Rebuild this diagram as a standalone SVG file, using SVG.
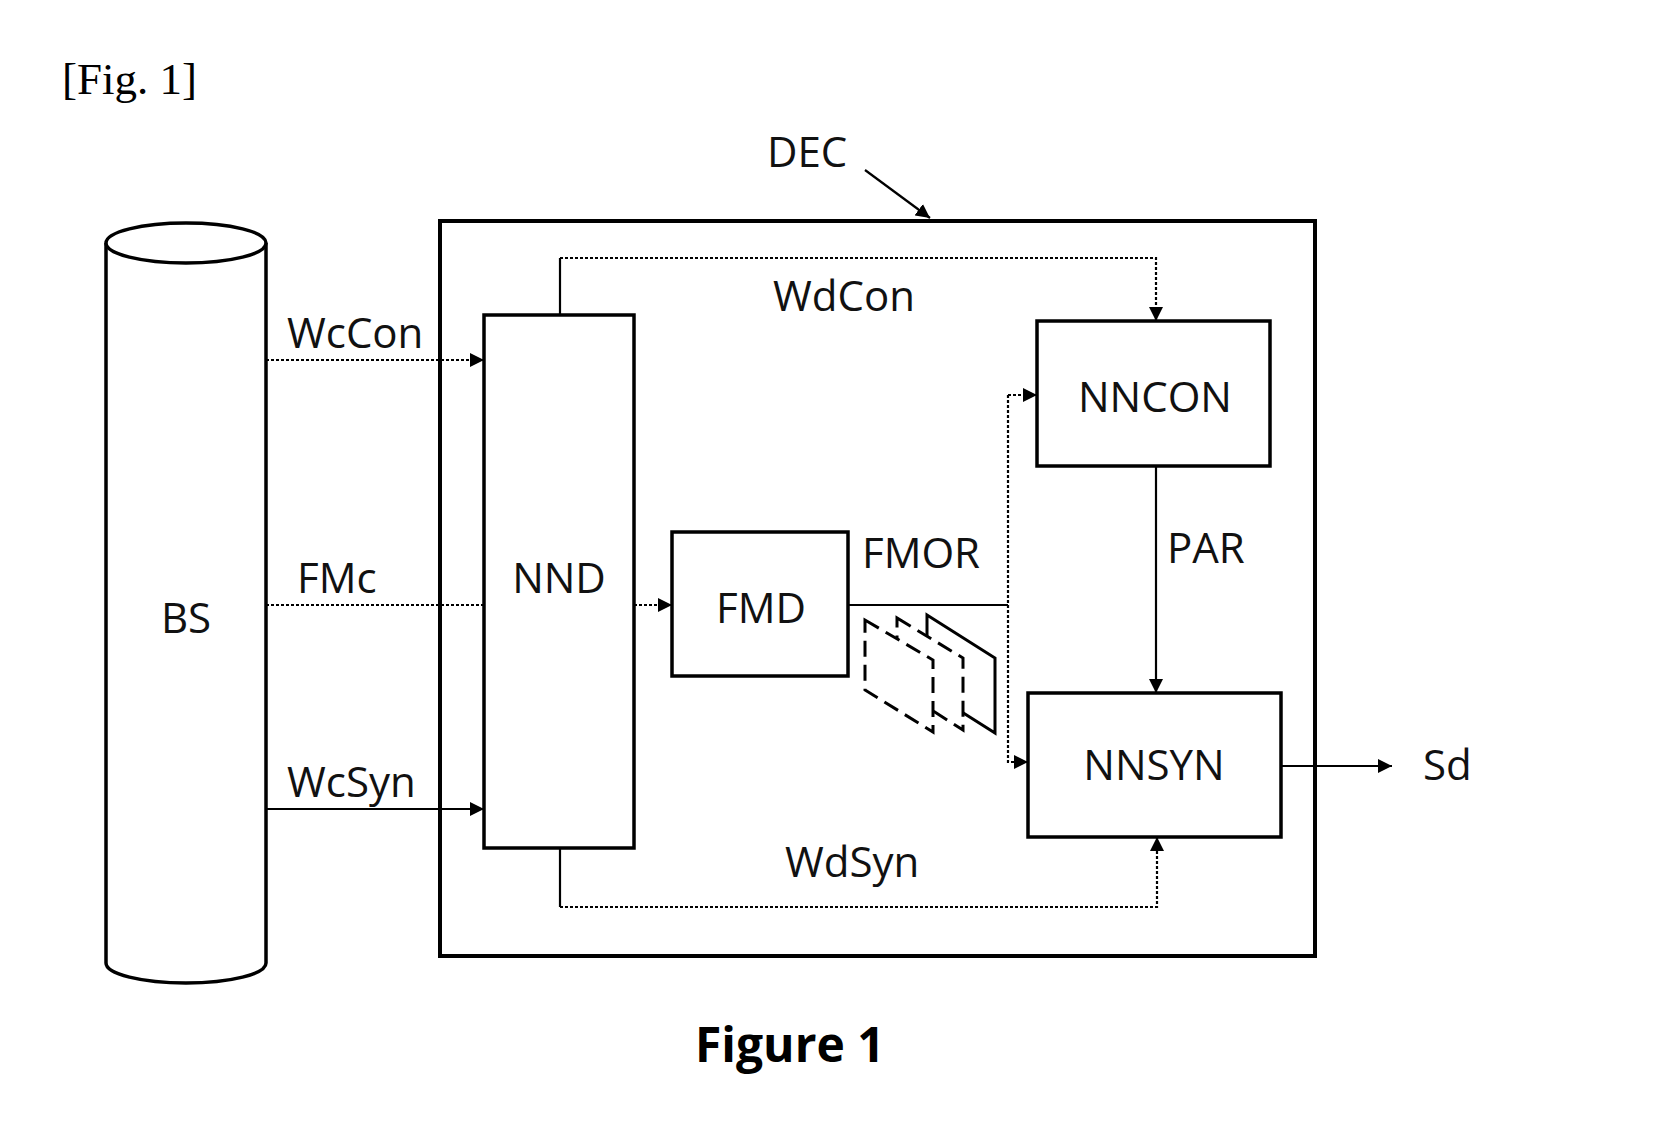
<svg xmlns="http://www.w3.org/2000/svg" width="1668" height="1130" viewBox="0 0 1668 1130">
<style>
.t{font-family:"Open Sans","Liberation Sans",sans-serif;font-size:42px;fill:#111}
.box{fill:#fff;stroke:#000;stroke-width:3.5}
.dot{fill:none;stroke:#000;stroke-width:2.2;stroke-dasharray:3,2}
.sol{fill:none;stroke:#000;stroke-width:2.2}
.pl{fill:#fff;stroke:#000;stroke-width:3;stroke-dasharray:16,8}
</style>
<defs>
<marker id="ah" viewBox="0 0 10 10" refX="10" refY="5" markerWidth="14" markerHeight="14" markerUnits="userSpaceOnUse" orient="auto">
<path d="M0,0 L10,5 L0,10 z" fill="#000"/>
</marker>
</defs>
<rect width="1668" height="1130" fill="#fff"/>
<text x="62" y="94" style="font-family:'Liberation Serif',serif;font-size:45px">[Fig. 1]</text>

<g id="DEC">
<rect x="440" y="221" width="875" height="735" fill="none" stroke="#000" stroke-width="4"/>
<text class="t" x="767" y="167">DEC</text>
</g>

<g id="BS">
<path d="M106,243 L106,963 A80,20 0 0 0 266,963 L266,243" fill="#fff" stroke="#000" stroke-width="3.5"/>
<ellipse cx="186" cy="243" rx="80" ry="20" fill="#fff" stroke="#000" stroke-width="3.5"/>
<text class="t" x="186" y="633" text-anchor="middle">BS</text>
</g>

<g id="NND">
<rect class="box" x="484" y="315" width="150" height="533"/>
<text class="t" x="559" y="593" text-anchor="middle">NND</text>
</g>

<g id="FMD">
<rect class="box" x="672" y="532" width="176" height="144"/>
<text class="t" x="761" y="623" text-anchor="middle">FMD</text>
</g>

<g id="planes">
<polygon points="927,615 995,658 995,733 927,690" fill="#fff" stroke="#000" stroke-width="3"/>
<polygon class="pl" points="897,618 963,658 963,730 897,688"/>
<polygon class="pl" points="865,620 933,660 933,732 865,690"/>
</g>

<g id="NNCON">
<rect class="box" x="1037" y="321" width="233" height="145"/>
<text class="t" x="1155" y="412" text-anchor="middle">NNCON</text>
</g>

<g id="NNSYN">
<rect class="box" x="1028" y="693" width="253" height="144"/>
<text class="t" x="1154" y="780" text-anchor="middle">NNSYN</text>
</g>

<g id="connectors">
<path class="sol" d="M865,170 L930,218" marker-end="url(#ah)"/>
<path class="dot" d="M266,360 L484,360" marker-end="url(#ah)"/>
<path class="dot" d="M266,605 L484,605"/>
<path class="sol" d="M266,809 L484,809" marker-end="url(#ah)"/>
<path class="dot" d="M634,605 L672,605" marker-end="url(#ah)"/>
<path class="sol" d="M560,315 L560,258"/>
<path class="dot" d="M560,258 L1156,258 L1156,321" marker-end="url(#ah)"/>
<path class="sol" d="M560,848 L560,907"/>
<path class="dot" d="M560,907 L1157,907 L1157,837" marker-end="url(#ah)"/>
<path class="sol" d="M848,605 L1008,605"/>
<path class="dot" d="M1008,395 L1008,762 L1028,762" marker-end="url(#ah)"/>
<path class="dot" d="M1008,395 L1037,395" marker-end="url(#ah)"/>
<path class="sol" d="M1156,466 L1156,693" marker-end="url(#ah)"/>
<path class="sol" d="M1281,766 L1392,766" marker-end="url(#ah)"/>
</g>

<g id="labels">
<text class="t" x="287" y="348">WcCon</text>
<text class="t" x="297" y="593">FMc</text>
<text class="t" x="287" y="797">WcSyn</text>
<text class="t" x="862" y="568">FMOR</text>
<text class="t" x="773" y="311">WdCon</text>
<text class="t" x="785" y="877">WdSyn</text>
<text class="t" x="1167" y="563">PAR</text>
<text class="t" x="1423" y="780">Sd</text>
</g>
<text x="695" y="1062" style="font-family:'Open Sans','Liberation Sans',sans-serif;font-size:48px;font-weight:bold">Figure 1</text>
</svg>
